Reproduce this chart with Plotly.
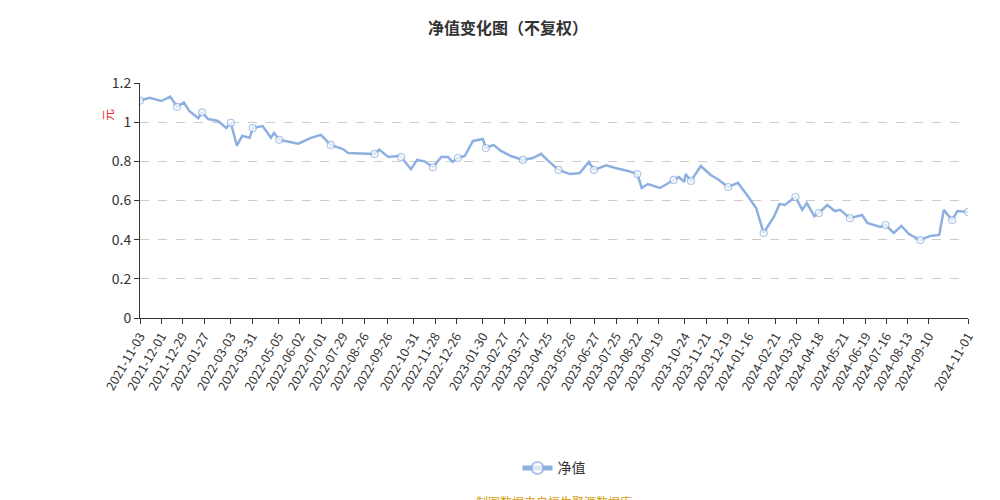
import plotly.graph_objects as go

dates = ["2021-11-03","2021-11-16","2021-12-01","2021-12-13","2021-12-22","2021-12-31","2022-01-07","2022-01-19","2022-01-24","2022-02-01",
"2022-02-14","2022-02-25","2022-03-03","2022-03-11","2022-03-18","2022-03-28","2022-04-01","2022-04-14","2022-04-25","2022-04-29",
"2022-05-06","2022-05-31","2022-06-17","2022-06-30","2022-07-13","2022-07-29","2022-08-05","2022-08-26","2022-09-09","2022-09-15",
"2022-09-27","2022-10-10","2022-10-14","2022-10-27","2022-11-04","2022-11-14","2022-11-25","2022-12-06","2022-12-15","2022-12-21",
"2022-12-28","2023-01-06","2023-01-17","2023-01-30","2023-02-03","2023-02-13","2023-02-23","2023-03-08","2023-03-24","2023-04-06",
"2023-04-17","2023-04-25","2023-05-10","2023-05-25","2023-06-07","2023-06-19","2023-06-26","2023-07-12","2023-07-24","2023-08-10",
"2023-08-22","2023-08-28","2023-09-05","2023-09-21","2023-10-09","2023-10-16","2023-10-23","2023-10-25","2023-11-01","2023-11-14",
"2023-11-27","2023-12-08","2023-12-20","2024-01-02","2024-01-15","2024-01-26","2024-02-05","2024-02-19","2024-02-26","2024-03-04",
"2024-03-18","2024-03-27","2024-04-02","2024-04-12","2024-04-18","2024-04-29","2024-05-09","2024-05-16","2024-05-29","2024-06-14",
"2024-06-21","2024-07-08","2024-07-15","2024-07-26","2024-08-05","2024-08-15","2024-08-30","2024-09-12","2024-09-24","2024-09-30",
"2024-10-11","2024-10-18","2024-11-01"]
nav = [1.11,1.124,1.108,1.13,1.078,1.10,1.057,1.02,1.05,1.016,
1.006,0.97,0.996,0.88,0.93,0.92,0.97,0.98,0.92,0.945,
0.91,0.89,0.92,0.935,0.884,0.863,0.843,0.838,0.838,0.86,
0.822,0.827,0.822,0.76,0.807,0.80,0.77,0.822,0.822,0.797,
0.817,0.827,0.904,0.914,0.868,0.884,0.853,0.827,0.807,0.817,
0.838,0.807,0.756,0.735,0.74,0.797,0.756,0.78,0.766,0.751,
0.735,0.664,0.684,0.664,0.705,0.72,0.695,0.735,0.70,0.776,
0.73,0.705,0.669,0.69,0.623,0.562,0.434,0.52,0.582,0.577,
0.618,0.552,0.587,0.52,0.536,0.577,0.546,0.552,0.51,0.526,
0.485,0.465,0.475,0.434,0.47,0.429,0.398,0.419,0.424,0.552,
0.50,0.546,0.541]
tick_labels = ["2021-11-03","2021-12-01","2021-12-29","2022-01-27","2022-03-03","2022-03-31","2022-05-05","2022-06-02","2022-07-01",
"2022-07-29","2022-08-26","2022-09-26","2022-10-31","2022-11-28","2022-12-26","2023-01-30","2023-02-27","2023-03-27","2023-04-25",
"2023-05-26","2023-06-27","2023-07-25","2023-08-22","2023-09-19","2023-10-24","2023-11-21","2023-12-19","2024-01-16","2024-02-21",
"2024-03-20","2024-04-18","2024-05-21","2024-06-19","2024-07-16","2024-08-13","2024-09-10","2024-11-01"]

sizes = [7 if i % 4 == 0 or i == len(nav)-1 else 0 for i in range(len(nav))]
fig = go.Figure(go.Scatter(x=dates, y=nav, mode="lines+markers", name="净值",
    line=dict(color="#8eb0e0", width=2.5),
    marker=dict(size=sizes, color="white", line=dict(color="#8eb0e0", width=1.2))))
fig.update_layout(
    width=1000, height=500, paper_bgcolor="white", plot_bgcolor="white",
    font=dict(family="Noto Sans CJK SC", color="#333"),
    title=dict(text="<b>净值变化图（不复权）</b>", x=0.5, y=0.97, xanchor="center", font=dict(size=16, color="#333")),
    margin=dict(l=132, r=40, t=75, b=190, autoexpand=False),
    showlegend=True,
    legend=dict(orientation="h", x=0.5, xanchor="center", y=-0.64, yanchor="middle", itemsizing="constant", font=dict(size=14)),
    xaxis=dict(type="date", range=["2021-11-03","2024-11-01"], tickvals=tick_labels, ticktext=tick_labels, automargin=False,
               tickangle=-60, showgrid=False, showline=True, linecolor="#333", ticks="outside", ticklen=5,
               tickcolor="#333", tickfont=dict(size=12.5, color="#333")),
    yaxis=dict(range=[0, 1.2], tickvals=[0,0.2,0.4,0.6,0.8,1,1.2], ticktext=["0","0.2","0.4","0.6","0.8","1","1.2"], automargin=False,
               showgrid=True, gridcolor="#cccccc", griddash="dash", showline=True, linecolor="#333",
               ticks="outside", ticklen=5, tickcolor="#333", tickfont=dict(size=14, color="#333"), zeroline=False),
    annotations=[
        dict(text="元", x=-0.052, y=0.9, xref="paper", yref="paper", showarrow=False, textangle=-90, font=dict(size=12, color="#e03030")),
        dict(text="制图数据来自恒生聚源数据库", x=0.5, y=-0.78, yanchor="middle", xref="paper", yref="paper", showarrow=False, font=dict(size=12, color="#d4a017")),
    ])
fig.write_html("out.html")
